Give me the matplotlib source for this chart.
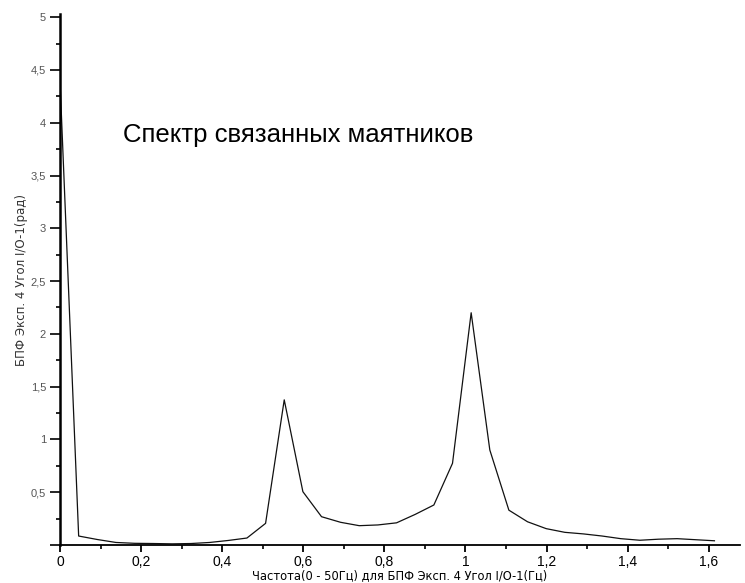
import matplotlib
matplotlib.use("Agg")
import matplotlib.pyplot as plt
from matplotlib.ticker import MultipleLocator, FuncFormatter

plt.rcParams['font.family'] = ['Liberation Sans', 'DejaVu Sans']

freq = [0.000, 0.046, 0.092, 0.138, 0.184, 0.230, 0.277, 0.323, 0.369, 0.415,
        0.461, 0.507, 0.553, 0.599, 0.645, 0.692, 0.738, 0.784, 0.830, 0.876,
        0.922, 0.968, 1.014, 1.060, 1.107, 1.153, 1.199, 1.245, 1.291, 1.337,
        1.383, 1.430, 1.476, 1.522, 1.568, 1.614]
amp = [4.40, 0.085, 0.052, 0.024, 0.016, 0.014, 0.011, 0.014, 0.024, 0.043,
       0.066, 0.205, 1.375, 0.505, 0.268, 0.215, 0.183, 0.190, 0.210, 0.290,
       0.379, 0.774, 2.200, 0.900, 0.330, 0.220, 0.155, 0.120, 0.105, 0.085,
       0.060, 0.045, 0.055, 0.060, 0.050, 0.040]

title = "Спектр связанных маятников"
xlabel = "Частота(0 - 50Гц) для БПФ Эксп. 4 Угол I/O-1(Гц)"
ylabel = "БПФ Эксп. 4 Угол I/O-1(рад)"

fig = plt.figure(figsize=(7.45, 5.83), dpi=100)
ax = fig.add_axes([60/745, 38/583, 680/745, 531/583])
ax.plot(freq, amp, color='#111111', lw=0.9)

ax.set_xlim(0, 1.677)
ax.set_ylim(0, 5.03)

for s in ['top', 'right']:
    ax.spines[s].set_visible(False)
ax.spines['left'].set_linewidth(1.8)
ax.spines['bottom'].set_linewidth(1.3)

ax.xaxis.set_major_locator(MultipleLocator(0.2))
ax.xaxis.set_minor_locator(MultipleLocator(0.1))
ax.yaxis.set_major_locator(MultipleLocator(0.5))
ax.yaxis.set_minor_locator(MultipleLocator(0.25))

def fmt(v, pos):
    if abs(v) < 1e-9:
        return "0"
    s = ("%.1f" % v).rstrip('0').rstrip('.')
    return s.replace('.', ',')

def yfmt(v, pos):
    if abs(v) < 1e-9:
        return ""
    return fmt(v, pos)

ax.xaxis.set_major_formatter(FuncFormatter(fmt))
ax.yaxis.set_major_formatter(FuncFormatter(yfmt))

ax.tick_params(axis='x', which='major', direction='out', length=5, width=1.3,
               labelsize=10, pad=2)
ax.tick_params(axis='x', which='minor', direction='out', length=3, width=1.2)
ax.tick_params(axis='y', which='major', direction='out', length=7, width=1.2,
               labelsize=8, labelcolor='#555555', pad=3)
ax.tick_params(axis='y', which='minor', direction='out', length=3, width=1.2)

ax.set_xlabel(xlabel, fontsize=8.3, family=['DejaVu Sans'], labelpad=0.5)
ax.set_ylabel(ylabel, fontsize=8.5, family=['DejaVu Sans'], color='#333333',
              labelpad=2)

fig.text(123 / 745, 1 - 135 / 583, title, fontsize=18.5, va='center', ha='left')

fig.savefig("out.png", dpi=100)
